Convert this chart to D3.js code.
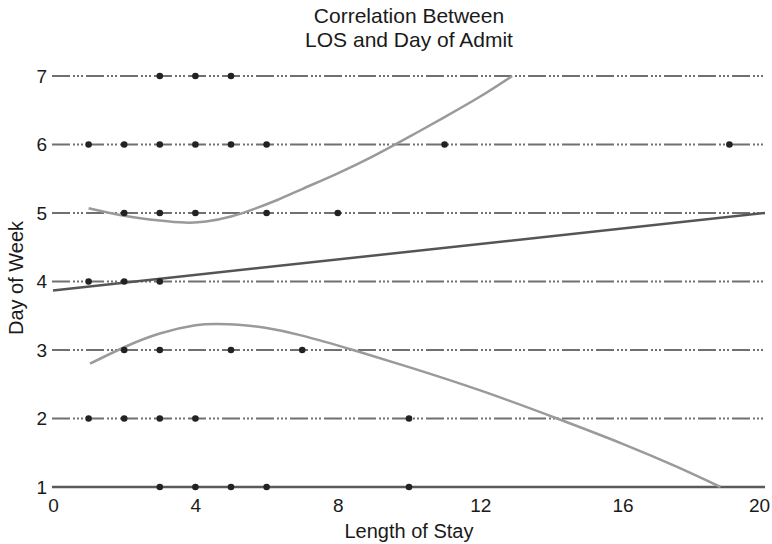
<!DOCTYPE html>
<html lang="en">
<head>
  <meta charset="UTF-8">
  <title>Correlation Between LOS and Day of Admit</title>
  <style>
    body { margin: 0; background: #fff; }
    svg { display: block; font-family: "Liberation Sans", Arial, sans-serif; }
    .grid { stroke: #707070; stroke-width: 2; stroke-dasharray: 18 3 2 2 2 2 2 3; }
    .base { stroke: #5a5a5a; stroke-width: 2.5; }
    .dot { fill: #222; }
    .band { fill: none; stroke: #9a9a9a; stroke-width: 2.5; }
    .fit { fill: none; stroke: #555; stroke-width: 2.5; }
    text { fill: #1a1a1a; }
  </style>
</head>
<body>
  <svg width="772" height="544"></svg>
  <script src="https://d3js.org/d3.v7.min.js"></script>
  <script>
    // observed patients: length of stay vs. day of admit
    const losValues = [3, 4, 5,
                       1, 2, 3, 4, 5, 6, 11, 19,
                       2, 3, 4, 6, 8,
                       1, 2, 3,
                       2, 3, 5, 7,
                       1, 2, 3, 4, 10,
                       3, 4, 5, 6, 10];
    const dayValues = [7, 7, 7,
                       6, 6, 6, 6, 6, 6, 6, 6,
                       5, 5, 5, 5, 5,
                       4, 4, 4,
                       3, 3, 3, 3,
                       2, 2, 2, 2, 2,
                       1, 1, 1, 1, 1];

    // fitted line
    const fitLine = [[0, 3.87], [20, 5.0]];

    // upper and lower curves
    const upperCurve = [[1, 5.07], [2, 4.96], [3, 4.89], [3.7, 4.86], [4.3, 4.875], [5, 4.95],
                        [5.6, 5.05], [6.3, 5.19], [7, 5.35], [8, 5.58], [9, 5.83], [10, 6.11],
                        [11, 6.4], [12, 6.7], [12.9, 7.0]];
    const lowerCurve = [[1.04, 2.8], [2, 3.04], [3, 3.24], [4, 3.36], [4.6, 3.38], [5.2, 3.37],
                        [6, 3.32], [7, 3.21], [8.43, 3.0], [10, 2.75], [12, 2.41], [14.16, 2.0],
                        [16, 1.63], [17.5, 1.3], [18.75, 1.0]];

    const xTicks = [0, 4, 8, 12, 16, 20];
    const yTicks = [1, 2, 3, 4, 5, 6, 7];

    const svg = d3.select("svg");
    const x = d3.scaleLinear().domain([0, 20]).range([53, 765]);
    const y = d3.scaleLinear().domain([1, 7]).range([487, 76]);

    // horizontal lines for each day
    svg.append("g")
      .selectAll("line")
      .data(yTicks)
      .join("line")
      .attr("class", d => d === 1 ? "base" : "grid")
      .attr("x1", x(0) - 1)
      .attr("x2", x(20))
      .attr("y1", d => y(d))
      .attr("y2", d => y(d));

    // axes
    const xAxis = svg.append("g")
      .attr("transform", `translate(0,${y(1)})`)
      .call(d3.axisBottom(x).tickValues(xTicks).tickFormat(d3.format("d")).tickSize(0));
    xAxis.select(".domain").remove();
    xAxis.selectAll("text").attr("font-size", 19).attr("dy", "0.71em").attr("y", 12)
      .attr("dx", d => d === 20 ? -6 : 0);

    const yAxis = svg.append("g")
      .attr("transform", `translate(${x(0)},0)`)
      .call(d3.axisLeft(y).tickValues(yTicks).tickFormat(d3.format("d")).tickSize(0).tickPadding(6));
    yAxis.select(".domain").remove();
    yAxis.selectAll("text").attr("font-size", 19);
    svg.selectAll(".tick text").attr("fill", "#1a1a1a").attr("font-family", "Liberation Sans, Arial, sans-serif");

    const line = d3.line().x(d => x(d[0])).y(d => y(d[1])).curve(d3.curveNatural);

    svg.append("path").attr("class", "band").attr("d", line(upperCurve));
    svg.append("path").attr("class", "band").attr("d", line(lowerCurve));
    svg.append("path").attr("class", "fit").attr("d", d3.line().x(d => x(d[0])).y(d => y(d[1]))(fitLine));

    // points
    svg.append("g")
      .selectAll("circle")
      .data(losValues)
      .join("circle")
      .attr("class", "dot")
      .attr("r", 3.3)
      .attr("cx", d => x(d))
      .attr("cy", (d, i) => y(dayValues[i]));

    // titles
    svg.append("text")
      .attr("x", 409).attr("y", 23)
      .attr("text-anchor", "middle").attr("font-size", 21)
      .text("Correlation Between");
    svg.append("text")
      .attr("x", 409).attr("y", 47)
      .attr("text-anchor", "middle").attr("font-size", 21)
      .text("LOS and Day of Admit");
    svg.append("text")
      .attr("x", 409).attr("y", 538)
      .attr("text-anchor", "middle").attr("font-size", 20)
      .text("Length of Stay");
    svg.append("text")
      .attr("transform", "translate(23,278) rotate(-90)")
      .attr("text-anchor", "middle").attr("font-size", 20)
      .text("Day of Week");
  </script>
</body>
</html>
